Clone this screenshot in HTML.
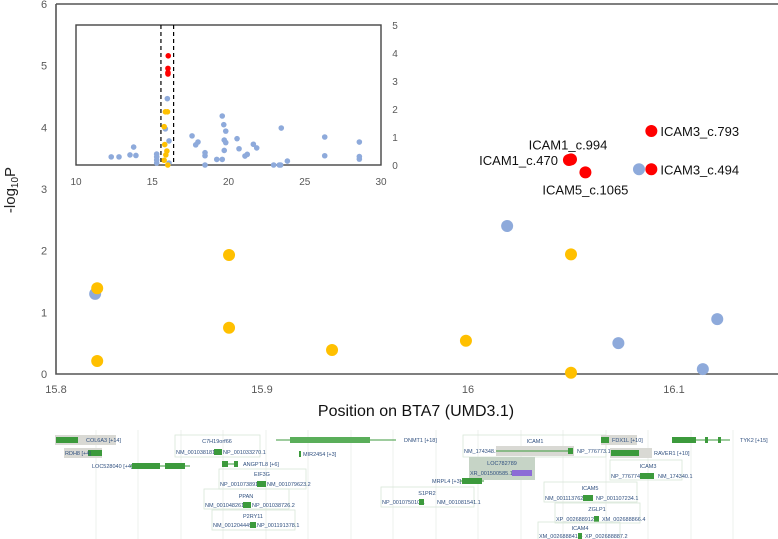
<!DOCTYPE html>
<html><head><meta charset="utf-8"><style>
html,body{margin:0;padding:0;background:#fff;}
svg{display:block;font-family:"Liberation Sans",sans-serif;}
</style></head><body>
<svg id="c" width="778" height="539" viewBox="0 0 778 539">
<g id="gx"></g>
<g id="gy"></g>
<g id="main"></g>
<g id="inset"></g>
<g id="genes"></g>
<text x="15" y="190" transform="rotate(-90 15 190)" text-anchor="middle" font-size="15" fill="#222">-log<tspan font-size="10" dy="3">10</tspan><tspan dy="-3">P</tspan></text>
<text x="416" y="416" text-anchor="middle" font-size="16" fill="#111">Position on BTA7 (UMD3.1)</text>
</svg>
<script>
// main chart data
const xTicks=[15.8,15.9,16,16.1];
const xTickLabels=["15.8","15.9","16","16.1"];
const yTicks=[0,1,2,3,4,5,6];
const blueX=[15.819,16.019,16.083,16.073,16.121,16.114];
const blueY=[1.30,2.40,3.32,0.50,0.89,0.08];
const yellowX=[15.820,15.820,15.884,15.884,15.934,15.999,16.050,16.050];
const yellowY=[1.39,0.21,1.93,0.75,0.39,0.54,1.94,0.02];
const redX=[16.049,16.050,16.057,16.089,16.089];
const redY=[3.47,3.48,3.27,3.94,3.32];
const redLabels=["ICAM1_c.470","ICAM1_c.994","ICAM5_c.1065","ICAM3_c.793","ICAM3_c.494"];
// inset data
const insetXTicks=[10,15,20,25,30];
const insetYTicks=[0,1,2,3,4,5];
const insetBlueX=[12.31,12.82,13.54,13.93,13.78,15.29,15.29,15.29,15.29,15.99,15.86,16.10,16.10,17.61,18.0,17.85,18.46,18.46,18.46,19.23,19.59,19.59,19.69,19.82,19.72,19.82,19.72,20.56,20.69,21.08,21.23,21.63,21.85,22.96,23.33,23.42,23.46,23.86,26.31,26.31,28.58,28.58,28.58];
const insetBlueY=[0.29,0.29,0.36,0.34,0.64,0.07,0.18,0.29,0.39,2.37,1.29,0.86,0.07,1.04,0.82,0.72,0.44,0.33,0,0.20,0.20,1.75,1.44,1.21,0.89,0.80,0.52,0.94,0.58,0.32,0.38,0.74,0.61,0,0,0,1.32,0.14,1.0,0.33,0.82,0.30,0.21];
const insetYellowX=[15.86,16.0,15.78,15.82,15.96,15.89,15.78,16.02];
const insetYellowY=[1.9,1.9,1.37,0.73,0.5,0.36,0.17,0];
const insetRedX=[16.05,16.03,16.03,16.03];
const insetRedY=[3.9,3.45,3.3,3.25];
const windowBounds=[15.57,16.4];

const NS="http://www.w3.org/2000/svg";
function mk(tag,attrs,parent,txt){const e=document.createElementNS(NS,tag);for(const k in attrs)e.setAttribute(k,attrs[k]);if(txt!==undefined)e.textContent=txt;parent.appendChild(e);return e;}
const X0=56,X1=778,Y0=374,Y1=4;
const sx=v=>X0+(v-15.8)*2060;
const sy=v=>Y0-v*(Y0-Y1)/6;
const gx=document.getElementById('gx'),gy=document.getElementById('gy'),main=document.getElementById('main');
let fr=mk('path',{d:`M${X0} ${Y1} H${X1} M${X0} ${Y1} V${Y0} H${X1}`,stroke:'#555',"stroke-width":1.6,fill:'none'},main);

xTicks.forEach((t,i)=>{const e=mk('text',{x:sx(t),y:393,"text-anchor":"middle","font-size":11,fill:'#595959'},gx,xTickLabels[i]);
});
yTicks.forEach(t=>{const e=mk('text',{x:44,y:sy(t)+4,"text-anchor":"middle","font-size":11,fill:'#595959'},gy,String(t));
});
function dots(xs,ys,col,r,g,fx,fy,name){xs.forEach((x,i)=>{const e=mk('circle',{cx:fx(x),cy:fy(ys[i]),r:r,fill:col},g);
});}
dots(blueX,blueY,'#8eaadb',6,main,sx,sy,'snp-point-blue');
dots(yellowX,yellowY,'#ffc000',6,main,sx,sy,'snp-point-yellow');
dots(redX,redY,'#ff0000',6,main,sx,sy,'snp-point-red');
const off=[[-11,5,'end'],[-3,-10,'middle'],[0,22,'middle'],[9,5,'start'],[9,5,'start']];
redLabels.forEach((l,i)=>{const e=mk('text',{x:sx(redX[i])+off[i][0],y:sy(redY[i])+off[i][1],"text-anchor":off[i][2],"font-size":13,fill:'#111'},main,l);
});
// inset
const ins=document.getElementById('inset');
const IX0=76,IX1=381,IY0=165,IY1=25;
const ix=v=>IX0+(v-10)*(IX1-IX0)/20, iy=v=>IY0-v*(IY0-IY1)/5;
let ib=mk('rect',{x:IX0,y:IY1,width:IX1-IX0,height:IY0-IY1,fill:'#fff',stroke:'#444',"stroke-width":1.4},ins);

insetXTicks.forEach(t=>{const e=mk('text',{x:ix(t),y:185,"text-anchor":"middle","font-size":10,fill:'#595959'},ins,String(t));
});
insetYTicks.forEach(t=>{const e=mk('text',{x:395,y:iy(t)+4,"text-anchor":"middle","font-size":10,fill:'#595959'},ins,String(t));
});
windowBounds.forEach(b=>{const e=mk('line',{x1:ix(b),x2:ix(b),y1:IY1,y2:IY0,stroke:'#000',"stroke-width":1.2,"stroke-dasharray":"4 3"},ins);
});
dots(insetBlueX,insetBlueY,'#8eaadb',2.8,ins,ix,iy,'inset-point-blue');
dots(insetYellowX,insetYellowY,'#ffc000',2.8,ins,ix,iy,'inset-point-yellow');
dots(insetRedX,insetRedY,'#ff0000',2.8,ins,ix,iy,'inset-point-red');
// gene track (static image approximation)
const G=document.getElementById('genes');
[96,138,181,223,266,308,351,393,436,478,521,563,606,648,691,733].forEach(x=>{const e=mk('line',{x1:x,x2:x,y1:430,y2:539,stroke:'#eef0ee',"stroke-width":1},G);
});
function box(x,y,w,h){const e=mk('rect',{x:x,y:y,width:w,height:h,fill:'none',stroke:'#d8e6d8',"stroke-width":0.8},G);}
function bar(x,y,w,col){const e=mk('rect',{x:x,y:y-3,width:w,height:6,fill:col||'#3c9a3c'},G);}
function gbg(x,y,w){const e=mk('rect',{x:x,y:y-5,width:w,height:10,fill:'#d9d9d4'},G);}
function ln(x,y,w,col){const e=mk('line',{x1:x,x2:x+w,y1:y,y2:y,stroke:col||'#3c9a3c',"stroke-width":1},G);}
function t(x,y,s,a){const e=mk('text',{x:x,y:y+2,"font-size":5.5,fill:'#2f4f7f',"text-anchor":a||'start'},G,s);}
gbg(55,440,61);bar(56,440,22);t(86,440,'COL6A3 [+14]');
gbg(64,453,38);bar(88,453,14);t(65,453,'RDH8 [+4]');
t(92,466,'LOC528040 [+4]');ln(130,466,60);bar(132,466,28);bar(165,466,20);
box(175,435,85,22);t(217,441,'C7H19orf66','middle');t(176,452,'NM_001038181.1');bar(214,452,8);t(223,452,'NP_001033270.1');
ln(222,464,16);bar(222,464,6);bar(234,464,4);t(243,464,'ANGPTL8 [+6]');
box(219,469,87,20);t(262,474,'EIF3G','middle');t(220,484,'NP_001073891.1');bar(257,484,9);t(267,484,'NM_001079623.2');
box(204,489,85,20);t(246,496,'PPAN','middle');t(205,505,'NM_001048261.2');bar(243,505,8);t(252,505,'NP_001038726.2');
box(212,510,83,20);t(253,516,'P2RY11','middle');t(213,525,'NM_001204449.1');bar(250,525,6);t(257,525,'NP_001191378.1');
ln(276,440,120);bar(290,440,80,'#5aae5a');t(404,440,'DNMT1 [+18]');
bar(299,454,2);t(303,454,'MIR2454 [+3]');
box(463,435,143,22);t(535,441,'ICAM1','middle');t(464,451,'NM_174348.2');gbg(496,451,78);ln(496,451,76);bar(568,451,5);t(577,451,'NP_776773.1');
const lb=mk('rect',{x:469,y:457,width:66,height:23,fill:'#c6d4c6'},G);
t(502,463,'LOC782789','middle');t(470,473,'XR_001500585.1');bar(512,473,20,'#8c6bd6');
t(432,481,'MRPL4 [+3]');ln(460,481,24);bar(462,481,20);
box(381,487,93,20);t(427,493,'S1PR2','middle');t(382,502,'NP_001075010.1');bar(419,502,5);t(437,502,'NM_001081541.1');
box(544,482,93,20);t(590,488,'ICAM5','middle');t(545,498,'NM_001113762.1');bar(583,498,10);t(596,498,'NP_001107234.1');
box(555,503,85,20);t(597,509,'ZGLP1','middle');t(556,519,'XP_002688912.3');bar(594,519,5);t(602,519,'XM_002688866.4');
box(538,522,82,20);t(580,528,'ICAM4','middle');t(539,536,'XM_002688841.4');bar(578,536,4);t(585,536,'XP_002688887.2');
gbg(601,440,36);bar(601,440,8);t(612,440,'FDX1L [+10]');
gbg(610,453,42);bar(611,453,28);t(654,453,'RAVER1 [+10]');
box(610,460,72,20);t(648,466,'ICAM3','middle');t(611,476,'NP_776774.1');bar(640,476,14);t(658,476,'NM_174340.1');
bar(672,440,24);ln(696,440,34);bar(705,440,3);bar(718,440,3);t(740,440,'TYK2 [+15]');
</script>
</body></html>
